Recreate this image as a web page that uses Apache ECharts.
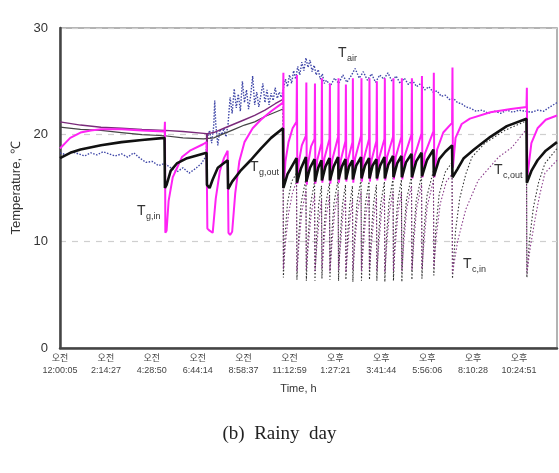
<!DOCTYPE html>
<html>
<head>
<meta charset="utf-8">
<script src="https://cdn.jsdelivr.net/npm/echarts@6.0.0/dist/echarts.min.js"></script>
<style>
html, body { margin: 0; padding: 0; background: #fff; }
#chart { width: 559px; height: 473px; }
</style>
</head>
<body>
<div id="chart"></div>
<script>
// x축 눈금 라벨 (오전/오후 + 시각), 간격 2:14:22
var ampm = ['오전', '오전', '오전', '오전', '오전', '오전', '오후', '오후', '오후', '오후', '오후'];
var clock = ['12:00:05', '2:14:27', '4:28:50', '6:44:14', '8:58:37', '11:12:59', '1:27:21', '3:41:44', '5:56:06', '8:10:28', '10:24:51'];
var tickStep = 2.23944; // hours
var yTicks = [0, 10, 20, 30];

// 공기 온도 T_air  [hour, ℃]
var tAir = [
    [0, 18.3], [0.3, 18.1], [0.6, 18.4], [0.9, 18.2], [1.2, 18.0], [1.5, 18.3], [1.8, 18.1], [2.1, 18.4],
    [2.4, 18.2], [2.7, 18.0], [3.0, 18.2], [3.3, 17.9], [3.6, 18.3], [3.9, 17.8], [4.2, 17.4], [4.5, 17.5],
    [4.8, 17.1], [5.1, 17.3], [5.4, 16.9], [5.7, 16.5], [6.0, 16.9], [6.3, 16.4], [6.6, 16.8], [6.9, 17.3],
    [7.1, 17.9], [7.2, 19.8], [7.3, 20.4], [7.4, 19.2], [7.5, 20.8], [7.55, 23.2], [7.6, 21.0], [7.7, 19.0],
    [7.8, 20.5], [7.9, 20.0], [8.0, 20.6], [8.1, 19.8], [8.2, 21.0], [8.3, 23.5], [8.4, 22.0], [8.5, 24.3],
    [8.6, 22.5], [8.7, 23.8], [8.8, 22.2], [8.9, 25.0], [9.0, 23.0], [9.1, 24.2], [9.2, 22.4], [9.3, 23.6],
    [9.4, 25.5], [9.5, 22.8], [9.6, 24.0], [9.7, 22.6], [9.8, 23.7], [9.9, 24.8], [10.0, 23.0], [10.1, 24.2],
    [10.2, 22.8], [10.3, 23.9], [10.4, 23.2], [10.5, 24.4], [10.6, 23.4], [10.7, 24.0], [10.8, 23.5], [10.9, 24.3],
    [11.0, 25.2], [11.1, 24.5], [11.2, 25.6], [11.3, 24.8], [11.4, 26.0], [11.5, 25.2], [11.6, 26.4], [11.7, 25.6],
    [11.8, 26.8], [11.9, 26.0], [12.0, 27.2], [12.1, 26.3], [12.2, 27.0], [12.3, 25.9], [12.4, 26.5], [12.5, 25.6],
    [12.6, 26.1], [12.7, 25.2], [12.8, 25.7], [12.9, 24.8], [13.0, 25.1], [13.2, 24.6], [13.4, 25.3], [13.6, 24.8],
    [13.8, 25.6], [14.0, 24.9], [14.2, 25.5], [14.4, 26.2], [14.6, 25.3], [14.8, 25.9], [15.0, 25.1], [15.2, 25.7],
    [15.4, 24.9], [15.6, 25.6], [15.8, 25.2], [16.0, 25.8], [16.2, 25.0], [16.4, 25.5], [16.6, 24.8], [16.8, 25.3],
    [17.0, 24.7], [17.2, 25.1], [17.4, 24.5], [17.6, 24.8], [17.8, 24.2], [18.0, 24.5], [18.2, 24.0], [18.4, 24.1],
    [18.6, 23.6], [18.8, 23.7], [19.0, 23.3], [19.2, 23.4], [19.4, 23.0], [19.6, 22.9], [19.8, 22.6], [20.0, 22.5],
    [20.3, 22.2], [20.6, 22.3], [20.9, 22.0], [21.2, 22.2], [21.5, 22.0], [21.8, 22.3], [22.1, 22.1], [22.4, 22.3],
    [22.7, 22.2], [23.0, 22.1], [23.3, 22.3], [23.6, 22.2], [23.9, 22.6], [24.25, 23.0]
];

// T_g,in (magenta)
var tgIn = [
    [0, 18.7], [0.3, 19.3], [0.5, 19.7], [1, 20.2], [1.5, 20.4], [2, 20.5], [3, 20.5], [4, 20.4], [5.1, 20.3],
    [5.12, 21.2], [5.14, 10.8], [5.2, 11.0], [5.3, 13.8], [5.5, 16.0], [5.95, 17.9], [6.34, 18.5], [6.98, 19.1], [7.15, 19.3],
    [7.17, 19.3], [7.19, 11.2], [7.3, 11.0], [7.45, 10.8], [7.6, 14.0], [7.8, 16.6], [8.0, 17.8], [8.18, 18.5],
    [8.2, 18.6], [8.22, 10.8], [8.3, 10.6], [8.4, 10.9], [8.55, 14.5], [8.75, 17.5], [9.0, 19.3], [9.4, 20.6],
    [9.8, 21.4], [10.3, 22.2], [10.88, 23.0],
    [10.9, 25.8], [10.92, 15.2], [11.0, 17.5], [11.15, 19.3], [11.35, 20.6], [11.54, 21.2],
    [11.56, 25.6], [11.58, 15.4], [11.65, 17.4], [11.8, 19.0], [12.0, 19.9],
    [12.02, 24.9], [12.04, 15.3], [12.1, 17.2], [12.25, 18.9], [12.42, 19.6],
    [12.44, 24.8], [12.46, 15.4], [12.55, 17.6], [12.76, 19.2],
    [12.78, 25.3], [12.8, 15.5], [12.9, 17.8], [13.15, 19.6],
    [13.17, 24.8], [13.19, 15.4], [13.28, 17.6], [13.57, 19.8],
    [13.59, 25.3], [13.61, 15.5], [13.7, 17.6], [13.93, 19.4],
    [13.95, 24.7], [13.97, 15.6], [14.06, 17.7], [14.27, 19.3],
    [14.29, 25.3], [14.31, 15.5], [14.4, 17.8], [14.69, 19.9],
    [14.71, 25.3], [14.73, 15.6], [14.82, 17.7], [15.08, 19.6],
    [15.1, 25.3], [15.12, 15.6], [15.2, 17.6], [15.44, 19.4],
    [15.46, 25.0], [15.48, 15.7], [15.57, 17.8], [15.83, 19.6],
    [15.85, 25.3], [15.87, 15.7], [15.96, 17.9], [16.25, 19.8],
    [16.27, 25.3], [16.29, 15.8], [16.38, 17.9], [16.66, 19.8],
    [16.68, 25.3], [16.7, 15.8], [16.8, 17.9], [17.15, 20.0],
    [17.17, 25.3], [17.19, 15.9], [17.3, 18.0], [17.64, 20.1],
    [17.66, 25.5], [17.68, 16.0], [17.8, 18.2], [18.22, 20.3],
    [18.24, 25.8], [18.26, 16.0], [18.4, 18.6], [18.7, 20.2], [19.13, 21.1],
    [19.15, 26.3], [19.17, 16.9], [19.3, 19.7], [19.6, 21.0], [20.0, 21.5], [21.0, 22.1], [22.0, 22.4], [22.76, 22.6],
    [22.78, 24.4], [22.8, 16.0], [23.0, 19.2], [23.3, 20.6], [23.7, 21.4], [24.25, 21.8]
];

// T_g,out (black, thick)
var tgOut = [
    [0, 17.8], [0.5, 18.3], [1, 18.6], [2, 19.0], [3, 19.3], [4, 19.5], [5.1, 19.7],
    [5.12, 15.0], [5.2, 15.3], [5.4, 16.6], [5.7, 17.3], [6.2, 17.8], [7.15, 18.3],
    [7.17, 15.3], [7.3, 15.0], [7.45, 15.8], [7.7, 16.9], [8.18, 17.6],
    [8.2, 14.9], [8.4, 15.6], [8.8, 16.6], [9.3, 17.6], [9.8, 18.7], [10.3, 19.7], [10.88, 20.6],
    [10.9, 15.0], [11.1, 16.3], [11.54, 17.8],
    [11.56, 15.5], [11.75, 16.8], [12.0, 17.9],
    [12.02, 15.6], [12.2, 16.9], [12.42, 17.7],
    [12.44, 15.6], [12.6, 16.9], [12.76, 17.6],
    [12.78, 15.7], [12.95, 17.0], [13.15, 17.8],
    [13.17, 15.7], [13.35, 17.0], [13.57, 17.9],
    [13.59, 15.8], [13.75, 17.0], [13.93, 17.7],
    [13.95, 15.8], [14.1, 17.0], [14.27, 17.6],
    [14.29, 15.8], [14.45, 17.1], [14.69, 17.9],
    [14.71, 15.9], [14.88, 17.1], [15.08, 17.8],
    [15.1, 15.9], [15.25, 17.1], [15.44, 17.7],
    [15.46, 15.9], [15.62, 17.1], [15.83, 17.9],
    [15.85, 15.9], [16.02, 17.2], [16.25, 18.0],
    [16.27, 16.0], [16.45, 17.3], [16.66, 18.0],
    [16.68, 16.0], [16.88, 17.4], [17.15, 18.2],
    [17.17, 16.0], [17.38, 17.5], [17.64, 18.3],
    [17.66, 16.1], [17.9, 17.6], [18.22, 18.6],
    [18.24, 16.1], [18.5, 17.7], [18.8, 18.4], [19.13, 19.0],
    [19.15, 16.0], [19.4, 16.8], [19.7, 17.8], [20.2, 18.6], [21.0, 19.8], [21.8, 20.8], [22.76, 21.5],
    [22.78, 15.5], [23.0, 16.6], [23.3, 17.6], [23.7, 18.5], [24.25, 19.3]
];

// T_c,out (thin black) - 오전 구간 실선, 이후 점선
var tcOutLine = [
    [0, 20.7], [1, 20.5], [2, 20.4], [3, 20.2], [4, 20.0], [5.1, 19.9], [6, 19.7], [7, 19.6], [7.5, 19.7],
    [8, 20.1], [8.5, 20.5], [9, 20.9], [9.5, 21.2], [10, 21.7], [10.5, 22.1], [10.88, 22.4]
];
var tcOutDot = [
    [10.88, 22.4], [10.9, 6.6], [10.98, 10.5], [11.1, 13.6], [11.3, 15.6], [11.54, 16.4],
    [11.56, 6.4], [11.64, 10.3], [11.76, 13.5], [12.0, 15.9],
    [12.02, 6.3], [12.1, 10.2], [12.22, 13.4], [12.42, 15.6],
    [12.44, 6.3], [12.52, 10.4], [12.62, 13.4], [12.76, 15.2],
    [12.78, 6.5], [12.86, 10.5], [12.98, 13.6], [13.15, 15.5],
    [13.17, 6.4], [13.25, 10.4], [13.37, 13.6], [13.57, 15.8],
    [13.59, 6.3], [13.67, 10.3], [13.78, 13.4], [13.93, 15.3],
    [13.95, 6.4], [14.03, 10.4], [14.13, 13.3], [14.27, 15.2],
    [14.29, 6.2], [14.37, 10.3], [14.49, 13.6], [14.69, 15.8],
    [14.71, 6.3], [14.79, 10.4], [14.9, 13.5], [15.08, 15.6],
    [15.1, 6.4], [15.18, 10.4], [15.29, 13.4], [15.44, 15.3],
    [15.46, 6.3], [15.54, 10.3], [15.65, 13.5], [15.83, 15.6],
    [15.85, 6.2], [15.93, 10.4], [16.05, 13.6], [16.25, 15.9],
    [16.27, 6.3], [16.35, 10.5], [16.47, 13.6], [16.66, 15.8],
    [16.68, 6.2], [16.76, 10.5], [16.9, 13.8], [17.15, 16.1],
    [17.17, 6.4], [17.25, 10.6], [17.38, 13.8], [17.64, 16.2],
    [17.66, 6.5], [17.75, 10.8], [17.9, 14.2], [18.22, 16.6],
    [18.24, 6.8], [18.33, 11.0], [18.5, 14.4], [18.8, 16.5], [19.13, 17.4],
    [19.15, 6.5], [19.3, 11.0], [19.5, 14.0], [19.8, 16.3], [20.1, 17.9], [20.73, 19.2], [21.7, 20.4], [22.76, 21.3],
    [22.78, 6.6], [22.9, 10.0], [23.1, 13.2], [23.35, 15.5], [23.66, 17.3], [24.25, 18.7]
];

// T_c,in (purple)
var tcInLine = [
    [0, 21.2], [1, 20.9], [2, 20.7], [3, 20.6], [4, 20.5], [5.1, 20.4], [5.12, 15.2], [5.14, 20.4], [6, 20.3],
    [7.15, 20.1], [7.17, 15.6], [7.19, 20.1], [7.5, 20.2], [8, 20.6], [8.5, 21.0], [9, 21.4], [9.5, 21.8],
    [10, 22.3], [10.5, 22.9], [10.88, 23.3]
];
var tcInDot = [
    [10.88, 23.3], [10.9, 7.4], [11.0, 9.8], [11.15, 12.6], [11.35, 14.6], [11.54, 15.6],
    [11.56, 7.2], [11.66, 9.8], [11.8, 12.8], [12.0, 14.8],
    [12.02, 7.3], [12.12, 9.7], [12.25, 12.5], [12.42, 14.4],
    [12.44, 7.2], [12.54, 9.8], [12.65, 12.2], [12.76, 13.9],
    [12.78, 7.4], [12.88, 9.9], [13.0, 12.5], [13.15, 14.3],
    [13.17, 7.2], [13.27, 9.8], [13.4, 12.7], [13.57, 14.6],
    [13.59, 7.3], [13.69, 9.8], [13.8, 12.4], [13.93, 14.1],
    [13.95, 7.1], [14.05, 9.7], [14.15, 12.1], [14.27, 13.9],
    [14.29, 7.3], [14.39, 9.9], [14.52, 12.8], [14.69, 14.7],
    [14.71, 7.2], [14.81, 9.8], [14.93, 12.6], [15.08, 14.4],
    [15.1, 7.3], [15.2, 9.8], [15.32, 12.4], [15.44, 14.1],
    [15.46, 7.2], [15.56, 9.8], [15.68, 12.6], [15.83, 14.4],
    [15.85, 7.1], [15.95, 9.9], [16.08, 12.8], [16.25, 14.7],
    [16.27, 7.2], [16.37, 9.9], [16.5, 12.8], [16.66, 14.6],
    [16.68, 7.2], [16.78, 10.0], [16.92, 13.1], [17.15, 15.2],
    [17.17, 7.3], [17.27, 10.1], [17.4, 13.1], [17.64, 15.3],
    [17.66, 7.4], [17.77, 10.2], [17.92, 13.3], [18.22, 15.7],
    [18.24, 7.5], [18.35, 10.3], [18.55, 13.5], [18.85, 15.6], [19.13, 16.3],
    [19.15, 7.0], [19.4, 10.0], [19.8, 13.0], [20.4, 15.7], [21.4, 17.9], [22.05, 18.8], [22.76, 20.5],
    [22.78, 7.0], [22.95, 9.5], [23.2, 12.3], [23.4, 14.3], [23.66, 16.4], [24.25, 17.6]
];

// 곡선 이름표 (T + 아래첨자)
var curveLabels = [
    { sub: 'air', x: 338, y: 46 },
    { sub: 'g,out', x: 250, y: 160 },
    { sub: 'g,in', x: 137, y: 204 },
    { sub: 'c,out', x: 494, y: 163 },
    { sub: 'c,in', x: 463, y: 257 }
];

(function () {
    var myChart = echarts.init(document.getElementById('chart'));

    var graphics = [];
    curveLabels.forEach(function (l) {
        graphics.push({
            type: 'text', left: l.x, top: l.y, z: 100,
            style: { text: 'T', fontSize: 14, fill: '#333', fontFamily: 'Liberation Sans' }
        });
        graphics.push({
            type: 'text', left: l.x + 9, top: l.y + 8, z: 100,
            style: { text: l.sub, fontSize: 9, fill: '#333', fontFamily: 'Liberation Sans' }
        });
    });
    graphics.push({
        type: 'text', left: 'center', top: 425,
        style: { text: '(b)  Rainy  day', fontSize: 19, fill: '#222', fontFamily: 'Liberation Serif' }
    });

    function line(name, data, color, width, type, z) {
        return {
            name: name, type: 'line', data: data, symbol: 'none', z: z,
            lineStyle: { color: color, width: width, type: type || 'solid' }
        };
    }

    var option = {
        animation: false,
        backgroundColor: '#fff',
        grid: {
            left: 60, right: 2, top: 28, bottom: 125,
            show: true, borderColor: '#9a9a9a', borderWidth: 1.5
        },
        xAxis: {
            type: 'value', min: 0, max: 24.25, interval: tickStep,
            name: 'Time, h', nameLocation: 'middle', nameGap: 35,
            nameTextStyle: { fontSize: 11, color: '#333', fontFamily: 'Liberation Sans', padding: [0, 20, 0, 0] },
            axisLine: { lineStyle: { color: '#444', width: 2.5 } },
            axisTick: { show: false },
            splitLine: { show: false },
            axisLabel: {
                showMaxLabel: false, margin: 5, fontSize: 9, lineHeight: 12, color: '#444',
                fontFamily: '"Liberation Sans", "Noto Sans CJK KR"',
                formatter: function (v) {
                    var i = Math.round(v / tickStep);
                    if (i >= clock.length || Math.abs(v - i * tickStep) > 0.01) return '';
                    return ampm[i] + '\n' + clock[i];
                }
            }
        },
        yAxis: {
            type: 'value', min: yTicks[0], max: yTicks[yTicks.length - 1], interval: 10,
            name: 'Temperature, ℃', nameLocation: 'middle', nameGap: 33, nameRotate: 90,
            nameTextStyle: { fontSize: 13, color: '#333', fontFamily: 'Liberation Sans' },
            axisLine: { show: true, lineStyle: { color: '#444', width: 2.5 } },
            axisTick: { show: false },
            splitLine: { lineStyle: { color: '#cfcfcf', type: [6, 6], width: 1.2 } },
            axisLabel: { fontSize: 13, color: '#333', margin: 12, fontFamily: 'Liberation Sans' }
        },
        graphic: graphics,
        series: [
            line('T_air', tAir, '#3f47a8', 1.4, [1.5, 1.5], 2),
            line('T_c,out dot', tcOutDot, '#333', 1.1, [1.5, 2], 3),
            line('T_c,in dot', tcInDot, '#8a3a8a', 1.1, [1.5, 2], 3),
            line('T_c,out', tcOutLine, '#444', 1.2, 'solid', 4),
            line('T_c,in', tcInLine, '#7a2a7a', 1.4, 'solid', 4),
            line('T_g,in', tgIn, '#ff22f4', 2, 'solid', 5),
            line('T_g,out', tgOut, '#111', 2.6, 'solid', 6)
        ]
    };
    myChart.setOption(option);
})();
</script>
</body>
</html>
